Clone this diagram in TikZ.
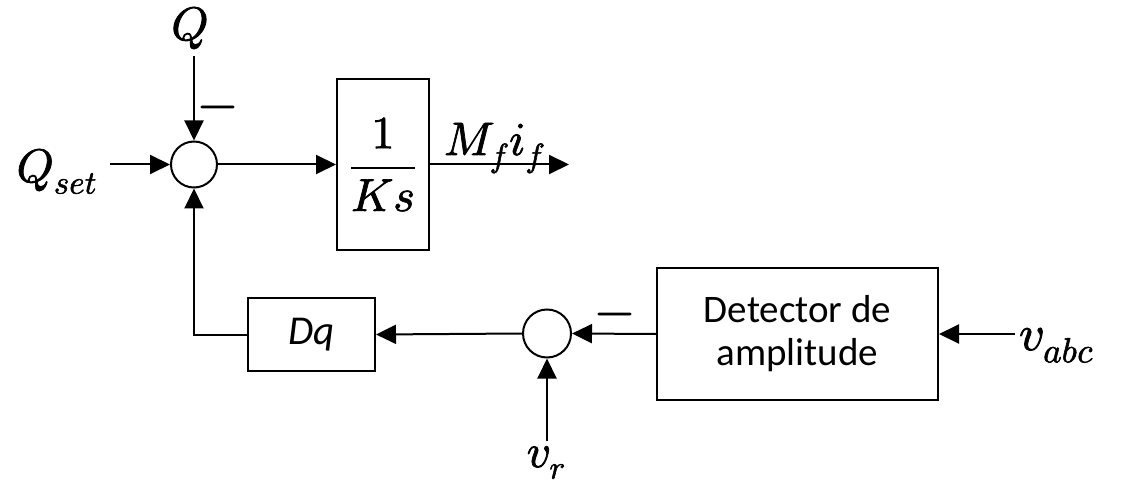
\documentclass[tikz,border=0pt]{standalone}
\usepackage{fontspec}
\usepackage{unicode-math}
\setmathfont{Latin Modern Math}[FakeBold=1.6]
\newfontfamily\calfont{Carlito}
\usetikzlibrary{arrows.meta}
\begin{document}
\begin{tikzpicture}[x=1pt,y=-1pt, line width=2pt,
  blk/.style={draw, line width=2pt, inner sep=0pt},
  sumj/.style={draw, circle, inner sep=0pt, line width=2pt},
  arr/.style={-{Triangle[length=20pt,width=19pt]}},
  mlab/.style={font=\fontsize{47}{50}\selectfont, inner sep=0pt},
  minus/.style={font=\fontsize{50}{54}\selectfont, inner sep=0pt, anchor=base},
  slab/.style={font=\calfont\fontsize{39}{43}\selectfont, align=center}]
\useasboundingbox (0,0) rectangle (1131,486);
% junctions and blocks
\node[sumj, minimum size=46pt] (s1) at (194,164.5) {};
\node[blk, minimum width=92pt, minimum height=171pt] (ks) at (383,164.5) {\fontsize{46}{50}\selectfont$\dfrac{1}{Ks}$};
\node[blk, minimum width=127pt, minimum height=73pt] (dq) at (311.5,334.5) {\calfont\itshape\fontsize{41}{44}\selectfont Dq};
\node[sumj, minimum size=48pt] (s2) at (547,333.5) {};
\node[blk, slab, minimum width=281pt, minimum height=132pt] (det) at (797.5,334) {Detector de\\amplitude};
% labels
\node[mlab, anchor=base] (q) at (190,40) {$Q$};
\node[mlab, anchor=base east] (qset) at (98,182) {$Q_{set}$};
\node[mlab, anchor=base west] (mf) at (443,155) {$M_f i_f$};
\node[mlab, anchor=base west, font=\fontsize{50}{54}\selectfont] (vabc) at (1018,350) {$v_{abc}$};
\node[mlab, anchor=base] (vr) at (546,467) {$v_r$};
\node[minus] (m1) at (217.5,119.5) {$-$};
\node[minus] (m2) at (614.5,326.5) {$-$};
\coordinate (out) at (569,164.5);
% connectors
\draw[arr, shorten <=6pt] (s1.north |- q.south) -- (s1.north);
\draw[arr, shorten <=12pt] (s1.west -| qset.east) -- (s1.west);
\draw[arr] (s1.east) -- (ks.west);
\draw[arr] (ks.east) -- (out);
\draw[arr, shorten <=3pt] (det.east -| vabc.west) -- (det.east);
\draw[arr] (det.west) -- (s2.east);
\draw[arr] (s2.west) -- (dq.east);
\draw[arr, shorten <=4pt] (s2.south |- vr.north) -- (s2.south);
\draw[arr] (dq.west) -| (s1.south);
\end{tikzpicture}
\end{document}
